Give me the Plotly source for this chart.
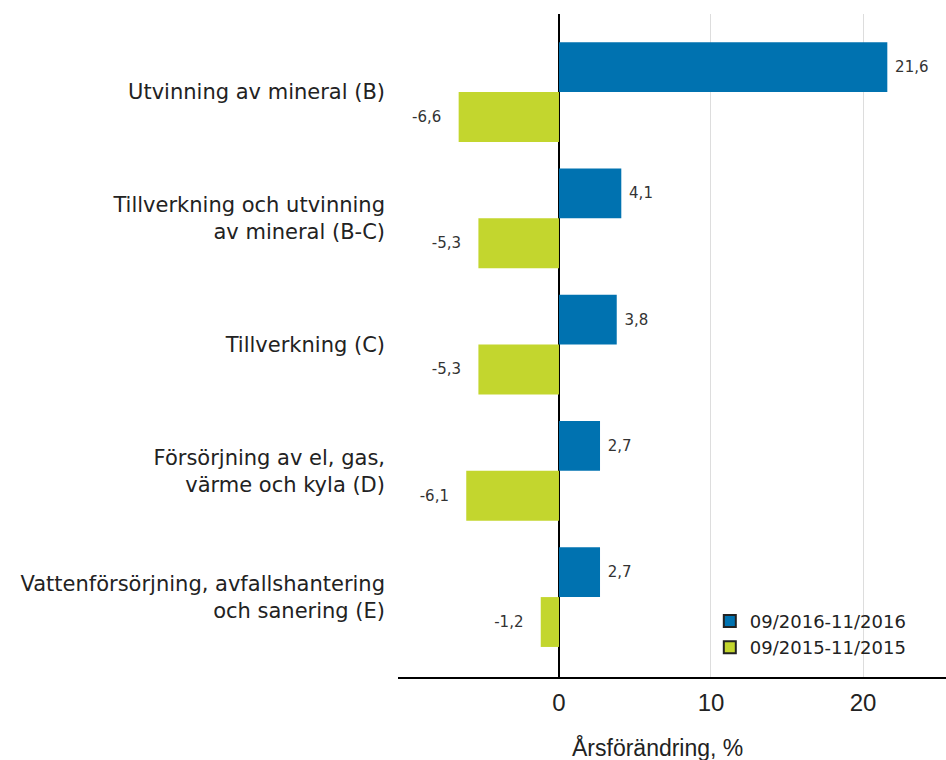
import plotly.graph_objects as go

categories = [
    "Utvinning av mineral (B)",
    "Tillverkning och utvinning<br>av mineral (B-C)",
    "Tillverkning (C)",
    "Försörjning av el, gas,<br>värme och kyla (D)",
    "Vattenförsörjning, avfallshantering<br>och sanering (E)",
]
series_names = ["09/2016-11/2016", "09/2015-11/2015"]
values_2016 = [21.6, 4.1, 3.8, 2.7, 2.7]
values_2015 = [-6.6, -5.3, -5.3, -6.1, -1.2]
x_ticks = [0, 10, 20]

colors = ["#0072b0", "#c3d62e"]
NB = "\u00a0"


def fmt(v):
    s = f"{v:.1f}".replace(".", ",")
    return (s + NB * 3) if v < 0 else (NB + s)


fig = go.Figure()
for name, vals, col in zip(series_names, [values_2016, values_2015], colors):
    fig.add_trace(go.Bar(
        y=categories, x=vals, orientation="h", name=name,
        marker=dict(color=col, line=dict(width=0)),
        text=[fmt(v) for v in vals], textposition="outside",
        textfont=dict(family="DejaVu Sans", size=15, color="#333333"),
        cliponaxis=False, showlegend=False,
    ))
# legend entries
for name, col in zip(series_names, colors):
    fig.add_trace(go.Scatter(
        x=[None], y=[None], mode="markers", name=name,
        marker=dict(symbol="square", size=13, color=col,
                    line=dict(color="#222222", width=1.5)),
        showlegend=True,
    ))

fig.update_layout(
    width=946, height=760,
    margin=dict(l=398, r=0, t=14, b=83),
    plot_bgcolor="white", paper_bgcolor="white",
    barmode="group", bargap=0.21, bargroupgap=0,
    font=dict(family="DejaVu Sans", color="#222222"),
    legend=dict(x=0.569, y=0.017, xanchor="left", yanchor="bottom",
                bgcolor="rgba(255,255,255,0)",
                font=dict(family="DejaVu Sans", size=18, color="#222222"),
                tracegroupgap=0, itemsizing="constant"),
    xaxis=dict(
        range=[-10.59, 25.46], tickvals=x_ticks,
        ticktext=[str(t) for t in x_ticks],
        showgrid=True, gridcolor="#dddddd", gridwidth=1,
        zeroline=True, zerolinecolor="#000000", zerolinewidth=1.5,
        showline=True, linecolor="#000000", linewidth=1.5,
        ticks="", ticklabelstandoff=3,
        tickfont=dict(family="Liberation Sans Narrow, Liberation Sans", size=24, color="#222222"),
    ),
    yaxis=dict(
        categoryorder="array", categoryarray=categories,
        range=[4.633, -0.618],
        showgrid=False, zeroline=False, showline=False,
        ticks="", ticklabelstandoff=12,
        tickfont=dict(family="DejaVu Sans", size=21, color="#222222"),
    ),
    annotations=[dict(
        text="Årsförändring, %", xref="paper", yref="paper",
        x=(657 - 398) / 548, y=-0.107, xanchor="center", yanchor="middle",
        showarrow=False,
        font=dict(family="Liberation Sans Narrow, Liberation Sans", size=23, color="#222222"),
    )],
)

fig.write_html("out.html", config={"displayModeBar": False},
               post_script="document.body.style.margin='0';document.body.style.overflow='hidden';")
